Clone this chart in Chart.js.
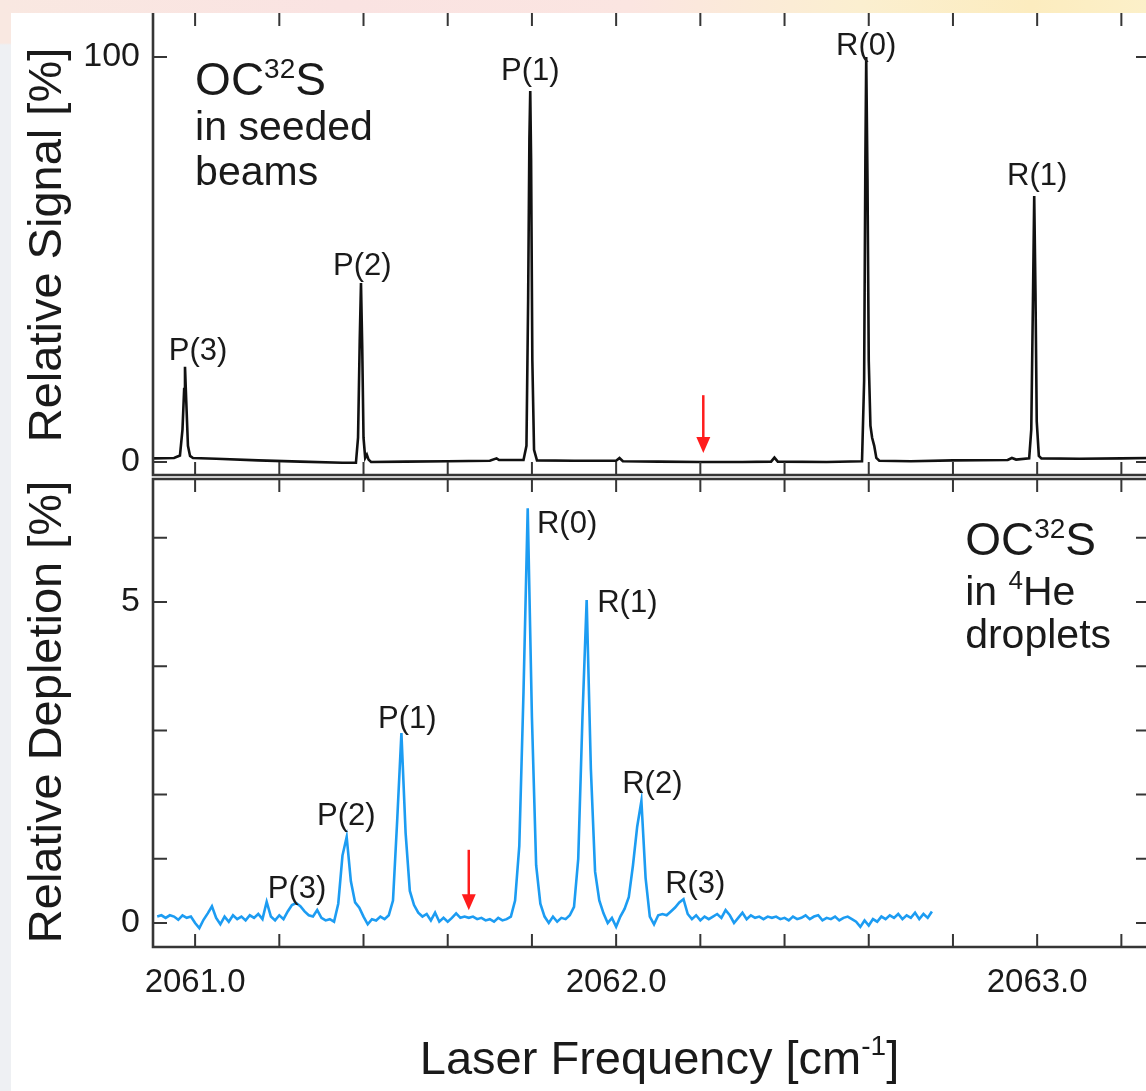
<!DOCTYPE html>
<html>
<head>
<meta charset="utf-8">
<title>OCS spectra</title>
<script src="https://cdn.jsdelivr.net/npm/chart.js@4.4.1/dist/chart.umd.min.js"></script>
<style>
  html, body { margin: 0; padding: 0; overflow: hidden; background: #fff; }
  body { width: 1146px; height: 1091px; position: relative; }
  #topStrip { position: absolute; left: 0; top: 0; width: 1146px; height: 13px;
    background: linear-gradient(to right, #f9e8e1 0%, #fae3e2 30%, #fbe5e1 55%, #fbefd0 75%, #fcecbf 90%, #fcf0c9 100%); }
  #leftStrip { position: absolute; left: 0; top: 13px; width: 11px; height: 1078px;
    background: linear-gradient(#f9e8e1 0, #f9e8e1 30px, #eef0f3 32px, #eef0f3 100%); }
  #wrap { position: absolute; left: 0; top: 0; width: 1170px; height: 1091px; }
</style>
</head>
<body>
<div id="topStrip"></div>
<div id="leftStrip"></div>
<div id="wrap"><canvas id="chart" width="1170" height="1091"></canvas></div>
<script>
const FONT = '"Liberation Sans", Arial, Helvetica, sans-serif';
const INK = '#1a1a1a';

// upper panel: OC32S in seeded beams (relative signal, %)
const signalFreq = [
  2060.900, 2060.950, 2060.964, 2060.970, 2060.974, 2060.976, 2060.979, 2060.983, 2060.988, 2060.995,
  2061.050, 2061.150, 2061.250, 2061.350, 2061.382, 2061.387, 2061.391, 2061.394, 2061.397, 2061.400,
  2061.404, 2061.408, 2061.412, 2061.418, 2061.500, 2061.600, 2061.700, 2061.716, 2061.722, 2061.780,
  2061.787, 2061.791, 2061.794, 2061.796, 2061.798, 2061.801, 2061.805, 2061.812, 2061.900, 2062.000,
  2062.008, 2062.016, 2062.100, 2062.200, 2062.300, 2062.368, 2062.376, 2062.384, 2062.500, 2062.584,
  2062.589, 2062.592, 2062.594, 2062.597, 2062.600, 2062.604, 2062.608, 2062.613, 2062.618, 2062.625,
  2062.700, 2062.800, 2062.930, 2062.940, 2062.950, 2062.981, 2062.986, 2062.990, 2062.993, 2062.996,
  2062.999, 2063.004, 2063.010, 2063.100, 2063.200, 2063.270
];
const signalValue = [
  0.9, 1.0, 1.6, 8, 18, 23.5, 15, 4, 1.5, 1.0,
  0.8, 0.4, 0.1, -0.2, -0.2, 6, 30, 44.2, 28, 6,
  1.0, 1.8, 0.6, 0.0, 0.1, 0.2, 0.3, 0.9, 0.5, 0.5,
  4, 40, 80, 91.6, 75, 25, 3, 0.4, 0.3, 0.3,
  1.0, 0.2, 0.1, 0.0, 0.0, 0.1, 1.1, 0.1, 0.0, 0.2,
  20, 75, 100, 70, 25, 9, 6, 4, 1, 0.3,
  0.2, 0.4, 0.5, 1.0, 0.6, 0.9, 8, 40, 65.7, 42,
  10, 1.5, 0.9, 0.8, 0.9, 1.0
];

// lower panel: OC32S in 4He droplets (relative depletion, %), one reading per 0.01 cm-1
const depletionStart = 2060.91;
const depletionStep = 0.01;
const depletionValue = [
  0.10, 0.12, 0.08, 0.12, 0.10, 0.05, 0.12, 0.08, 0.10, 0.00,
  -0.08, 0.05, 0.15, 0.26, 0.08, -0.02, 0.10, 0.02, 0.12, 0.06,
  0.10, 0.04, 0.12, 0.08, 0.14, 0.06, 0.33, 0.10, 0.04, 0.12,
  0.06, 0.18, 0.28, 0.31, 0.26, 0.18, 0.12, 0.10, 0.20, 0.08,
  0.04, 0.06, 0.02, 0.30, 1.05, 1.34, 0.65, 0.32, 0.24, 0.10,
  -0.02, 0.06, 0.04, 0.10, 0.06, 0.12, 0.35, 1.60, 2.96, 1.40,
  0.50, 0.28, 0.16, 0.10, 0.14, 0.04, 0.16, 0.02, 0.08, 0.02,
  0.08, 0.15, 0.08, 0.10, 0.08, 0.10, 0.06, 0.08, 0.04, 0.06,
  0.02, 0.08, 0.04, 0.06, 0.10, 0.35, 1.20, 3.60, 6.46, 3.20,
  0.90, 0.30, 0.10, 0.00, 0.10, 0.02, 0.08, 0.06, 0.12, 0.25,
  1.00, 3.20, 5.03, 2.40, 0.80, 0.35, 0.15, 0.00, 0.08, -0.06,
  0.10, 0.22, 0.40, 0.90, 1.50, 1.90, 0.70, 0.10, -0.02, 0.12,
  0.14, 0.12, 0.18, 0.24, 0.32, 0.37, 0.14, 0.06, 0.12, 0.04,
  0.10, 0.06, 0.10, 0.14, 0.08, 0.20, 0.12, 0.00, 0.08, 0.16,
  0.06, 0.12, 0.08, 0.10, 0.06, 0.10, 0.08, 0.10, 0.06, 0.08,
  0.04, 0.10, 0.06, 0.08, 0.12, 0.06, 0.10, 0.12, 0.04, 0.08,
  0.06, 0.10, 0.04, 0.08, 0.10, 0.06, 0.02, -0.06, 0.04, -0.04,
  0.06, 0.02, 0.10, 0.06, 0.12, 0.08, 0.14, 0.06, 0.12, 0.08,
  0.16, 0.06, 0.14, 0.08, 0.18
];

// ticks
const freqTicks = [2061.0, 2061.2, 2061.4, 2061.6, 2061.8, 2062.0, 2062.2, 2062.4, 2062.6, 2062.8, 2063.0, 2063.2];
const freqTickLabels = ['2061.0', '2062.0', '2063.0'];
const signalTicks = [0, 100];
const signalTickLabels = ['0', '100'];
const depletionTicks = [0, 1, 2, 3, 4, 5, 6];
const depletionTickLabels = ['0', '5'];

// line assignments
const signalLines = ['P(3)', 'P(2)', 'P(1)', 'R(0)', 'R(1)'];
const signalLineFreq = [2061.007, 2061.397, 2061.796, 2062.594, 2063.000];
const signalLineLevel = [25.2, 46.2, 94.3, 100.6, 68.4];

const depletionLines = ['P(3)', 'P(2)', 'P(1)', 'R(0)', 'R(1)', 'R(2)', 'R(3)'];
const depletionLineFreq = [2061.242, 2061.359, 2061.504, 2061.812, 2061.955, 2062.086, 2062.188];
const depletionLineLevel = [0.39, 1.53, 3.04, 6.07, 4.84, 2.02, 0.47];
const depletionLineAlign = ['center', 'center', 'center', 'left', 'left', 'center', 'center'];

// band origins marked with red arrows: [freq, from, to]
const signalOrigin = [2062.207, 16.5, 2.2];
const depletionOrigin = [2061.650, 1.14, 0.2];

const signalData = signalFreq.map((f, i) => ({ x: f, y: signalValue[i] }));
const depletionData = depletionValue.map((v, i) => ({ x: +(depletionStart + i * depletionStep).toFixed(3), y: v }));

function font(size) { return size + 'px ' + FONT; }

// draws text pieces, some raised as superscripts
function drawRich(ctx, parts, x, y, align) {
  let w = 0;
  parts.forEach(p => { ctx.font = font(p.size); w += ctx.measureText(p.text).width; });
  let cx = align === 'center' ? x - w / 2 : x;
  ctx.textAlign = 'left';
  ctx.textBaseline = 'alphabetic';
  parts.forEach(p => {
    ctx.font = font(p.size);
    ctx.fillText(p.text, cx, y - (p.rise || 0));
    cx += ctx.measureText(p.text).width;
  });
}

function drawArrow(ctx, px, y0, y1) {
  ctx.save();
  ctx.strokeStyle = '#ff1c1c';
  ctx.fillStyle = '#ff1c1c';
  ctx.lineWidth = 2.5;
  ctx.beginPath();
  ctx.moveTo(px, y0);
  ctx.lineTo(px, y1 - 14);
  ctx.stroke();
  ctx.beginPath();
  ctx.moveTo(px - 7, y1 - 16);
  ctx.lineTo(px + 7, y1 - 16);
  ctx.lineTo(px, y1);
  ctx.closePath();
  ctx.fill();
  ctx.restore();
}

const panelFrame = {
  id: 'panelFrame',
  afterDatasetsDraw(chart) {
    const { ctx, scales } = chart;
    const x = scales.x;
    ctx.save();
    ctx.strokeStyle = '#363636';
    [scales.yTop, scales.yBot].forEach((y, k) => {
      const top = k === 0 ? y.top : y.top + 2;
      const bottom = k === 0 ? y.bottom - 2 : y.bottom;
      ctx.lineWidth = 2.6;
      ctx.beginPath();
      if (k === 0) {
        ctx.moveTo(x.left, top); ctx.lineTo(x.left, bottom); ctx.lineTo(x.right, bottom); ctx.lineTo(x.right, top);
      } else {
        ctx.rect(x.left, top, x.right - x.left, bottom - top);
      }
      ctx.stroke();
      ctx.lineWidth = 2;
      ctx.beginPath();
      freqTicks.forEach(v => {
        const px = x.getPixelForValue(v);
        ctx.moveTo(px, top); ctx.lineTo(px, top + 13);
        ctx.moveTo(px, bottom); ctx.lineTo(px, bottom - 13);
      });
      (k === 0 ? signalTicks : depletionTicks).forEach(v => {
        const py = y.getPixelForValue(v);
        ctx.moveTo(x.left, py); ctx.lineTo(x.left + 14, py);
        ctx.moveTo(x.right, py); ctx.lineTo(x.right - 14, py);
      });
      ctx.stroke();
    });
    ctx.restore();
  },
  afterDraw(chart) {
    const { ctx, scales } = chart;
    const { x, yTop, yBot } = scales;
    ctx.save();
    ctx.fillStyle = INK;
    ctx.textBaseline = 'alphabetic';

    ctx.font = font(31);
    signalLines.forEach((t, i) => {
      ctx.textAlign = 'center';
      ctx.fillText(t, x.getPixelForValue(signalLineFreq[i]), yTop.getPixelForValue(signalLineLevel[i]));
    });
    depletionLines.forEach((t, i) => {
      ctx.textAlign = depletionLineAlign[i];
      ctx.fillText(t, x.getPixelForValue(depletionLineFreq[i]), yBot.getPixelForValue(depletionLineLevel[i]));
    });

    // sample descriptions
    let ax = x.getPixelForValue(2061.0), ay = yTop.getPixelForValue(90.6);
    drawRich(ctx, [{ text: 'OC', size: 46 }, { text: '32', size: 28, rise: 17 }, { text: 'S', size: 46 }], ax, ay);
    drawRich(ctx, [{ text: 'in seeded', size: 41 }], ax, ay + 45);
    drawRich(ctx, [{ text: 'beams', size: 41 }], ax, ay + 90);

    ax = x.getPixelForValue(2062.829); ay = yBot.getPixelForValue(5.73);
    drawRich(ctx, [{ text: 'OC', size: 46 }, { text: '32', size: 28, rise: 17 }, { text: 'S', size: 46 }], ax, ay);
    drawRich(ctx, [{ text: 'in ', size: 41 }, { text: '4', size: 26, rise: 16 }, { text: 'He', size: 41 }], ax, ay + 50);
    drawRich(ctx, [{ text: 'droplets', size: 41 }], ax, ay + 93);

    // x axis title with superscript
    drawRich(ctx, [{ text: 'Laser Frequency [cm', size: 47 }, { text: '-1', size: 28, rise: 19 }, { text: ']', size: 47 }],
      (x.left + x.right) / 2 + 8, 1074, 'center');

    drawArrow(ctx, x.getPixelForValue(signalOrigin[0]), yTop.getPixelForValue(signalOrigin[1]), yTop.getPixelForValue(signalOrigin[2]));
    drawArrow(ctx, x.getPixelForValue(depletionOrigin[0]), yBot.getPixelForValue(depletionOrigin[1]), yBot.getPixelForValue(depletionOrigin[2]));
    ctx.restore();
  }
};

function yScale(opts) {
  return Object.assign({
    type: 'linear',
    position: 'left',
    stack: 'panels',
    afterFit: s => { s.width = 153; s.paddingTop = 0; s.paddingBottom = 0; },
    grid: { display: false, drawTicks: false },
    border: { display: false },
  }, opts);
}

new Chart(document.getElementById('chart'), {
  type: 'line',
  data: {
    datasets: [
      { label: 'seeded beams', data: signalData, yAxisID: 'yTop', borderColor: '#111', borderWidth: 2.6,
        pointRadius: 0, tension: 0, fill: false },
      { label: '4He droplets', data: depletionData, yAxisID: 'yBot', borderColor: '#1c9cf2', borderWidth: 2.6,
        pointRadius: 0, tension: 0, fill: false }
    ]
  },
  options: {
    responsive: false,
    animation: false,
    events: [],
    layout: { padding: { top: 13, right: 20, left: 0, bottom: 0 } },
    plugins: { legend: { display: false }, tooltip: { enabled: false } },
    scales: {
      x: {
        type: 'linear',
        position: 'bottom',
        min: 2060.9,
        max: 2063.268,
        afterBuildTicks: s => { s.ticks = freqTicks.map(v => ({ value: v })); },
        afterFit: s => { s.height = 144; s.paddingLeft = 0; s.paddingRight = 0; },
        grid: { display: false, drawTicks: false },
        border: { display: false },
        ticks: {
          autoSkip: false, maxRotation: 0, padding: 16, color: INK,
          font: { family: FONT, size: 33 },
          callback: v => { const s = Number(v).toFixed(1); return freqTickLabels.includes(s) ? s : ''; }
        }
      },
      yTop: yScale({
        weight: 2,
        stackWeight: 464,
        min: -3.7,
        max: 110.86,
        afterBuildTicks: s => { s.ticks = signalTicks.map(v => ({ value: v })); },
        ticks: {
          padding: 13, color: INK, font: { family: FONT, size: 34 },
          callback: v => { const s = String(Math.round(v)); return signalTickLabels.includes(s) ? s : ''; }
        },
        title: { display: true, text: 'Relative Signal [%]', color: INK, font: { family: FONT, size: 47 },
          padding: { top: 20, bottom: 0 } }
      }),
      yBot: yScale({
        weight: 1,
        stackWeight: 470,
        min: -0.374,
        max: 6.947,
        afterBuildTicks: s => { s.ticks = depletionTicks.map(v => ({ value: v })); },
        ticks: {
          padding: 13, color: INK, font: { family: FONT, size: 34 },
          callback: v => { const s = String(Math.round(v)); return depletionTickLabels.includes(s) ? s : ''; }
        },
        title: { display: true, text: 'Relative Depletion [%]', color: INK, font: { family: FONT, size: 47 },
          padding: { top: 20, bottom: 0 } }
      })
    }
  },
  plugins: [panelFrame]
});
</script>
</body>
</html>
